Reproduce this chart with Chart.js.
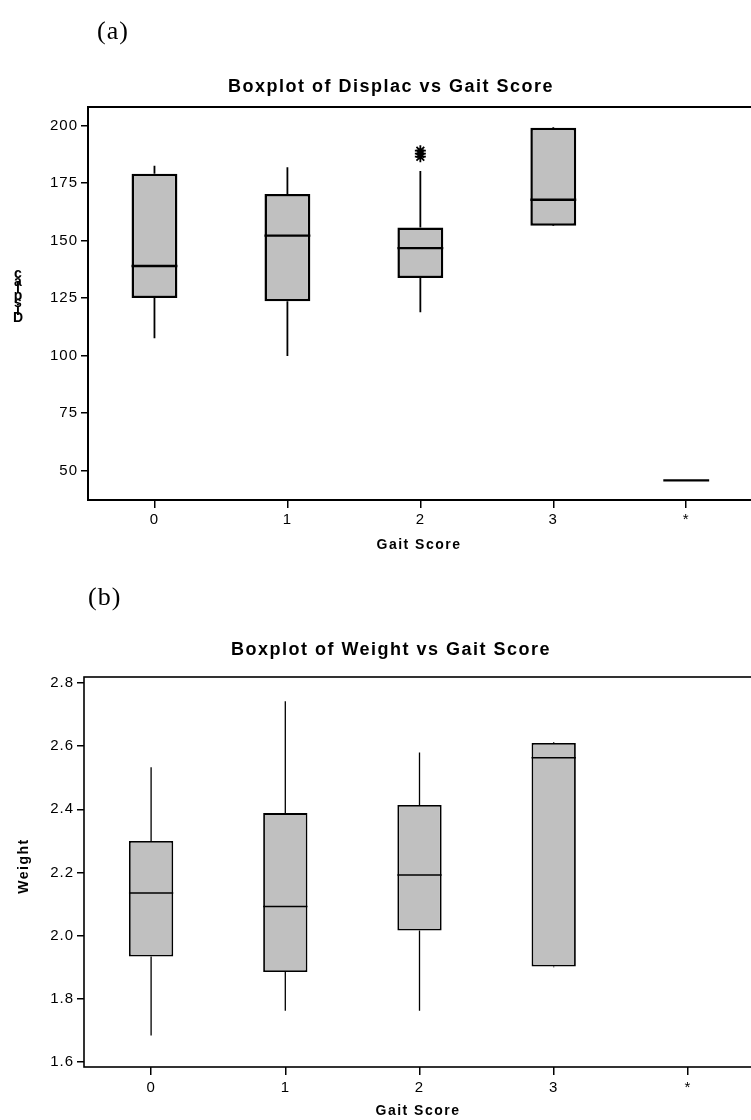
<!DOCTYPE html>
<html>
<head>
<meta charset="utf-8">
<title>Boxplots vs Gait Score</title>
<style>
  html, body { margin: 0; padding: 0; background: #fff; width: 751px; height: 1120px; overflow: hidden; }
  .panel { position: absolute; left: 0; width: 760px; height: 560px; }
  #panelA { top: 0; }
  #panelB { top: 560px; }
  canvas { display: block; }
</style>
<script src="https://cdn.jsdelivr.net/npm/chart.js"></script>
</head>
<body>
<div class="panel" id="panelA"><canvas id="displacChart" width="760" height="560"></canvas></div>
<div class="panel" id="panelB"><canvas id="weightChart" width="760" height="560"></canvas></div>
<script>
// Gait score groups (the last group holds records with a missing score)
const gaitScores = ['0', '1', '2', '3', '*'];

// Displacement summary per gait score
const displacMin    = [107.5,  99.8, 118.8, 157.0, 45.7];
const displacQ1     = [125.0, 123.6, 133.7, 156.4, 45.7];
const displacMedian = [138.9, 152.1, 146.7, 167.7, 45.7];
const displacQ3     = [179.0, 170.2, 155.6, 199.0, 45.7];
const displacMax    = [182.5, 181.8, 180.2, 199.3, 45.7];
const displacOutlierGroups = ['2', '2', '2'];
const displacOutlierValues = [186.4, 187.7, 189.0];
const displacTicks = [50, 75, 100, 125, 150, 175, 200];

// Weight summary per gait score
const weightMin    = [1.684, 1.762, 1.762, 1.900, null];
const weightQ1     = [1.934, 1.885, 2.016, 1.902, null];
const weightMedian = [2.135, 2.092, 2.192, 2.563, null];
const weightQ3     = [2.300, 2.388, 2.414, 2.610, null];
const weightMax    = [2.533, 2.742, 2.580, 2.612, null];
const weightTicks  = [1.6, 1.8, 2.0, 2.2, 2.4, 2.6, 2.8];

const SANS = '"Liberation Sans", Arial, sans-serif';
const SERIF = '"Liberation Serif", "Times New Roman", serif';

// Whiskers, median bars and the closed plot frame
function boxMarksPlugin(stats, style) {
  return {
    id: 'boxMarks',
    beforeDraw(chart) {
      chart.ctx.letterSpacing = '1px';
    },
    afterDatasetsDraw(chart) {
      const { ctx, chartArea, scales: { x, y } } = chart;
      const meta = chart.getDatasetMeta(0);
      ctx.save();
      ctx.strokeStyle = '#000';
      ctx.lineCap = 'butt';
      stats.q1.forEach((q1, i) => {
        if (q1 == null) return;
        const bar = meta.data[i];
        const cx = x.getPixelForValue(i);
        const half = bar.width / 2;
        ctx.lineWidth = style.whisker;
        ctx.beginPath();
        ctx.moveTo(cx, y.getPixelForValue(stats.q3[i]));
        ctx.lineTo(cx, y.getPixelForValue(stats.max[i]));
        ctx.moveTo(cx, y.getPixelForValue(q1));
        ctx.lineTo(cx, y.getPixelForValue(stats.min[i]));
        ctx.stroke();
        ctx.lineWidth = style.median;
        const my = y.getPixelForValue(stats.median[i]);
        ctx.beginPath();
        ctx.moveTo(cx - half, my);
        ctx.lineTo(cx + half, my);
        ctx.stroke();
      });
      ctx.lineWidth = style.frame;
      ctx.strokeRect(chartArea.left, chartArea.top, chartArea.width, chartArea.height);
      ctx.restore();
    }
  };
}

// Panel letter, chart title and axis titles
function captionPlugin(text) {
  return {
    id: 'captions',
    afterDraw(chart) {
      const ctx = chart.ctx;
      ctx.save();
      ctx.fillStyle = '#000';
      ctx.textBaseline = 'middle';

      ctx.font = '26px ' + SERIF;
      ctx.letterSpacing = '1px';
      ctx.textAlign = 'left';
      ctx.fillText(text.panel, text.panelX, text.panelY);

      ctx.font = 'bold 18px ' + SANS;
      ctx.letterSpacing = '1.5px';
      ctx.textAlign = 'center';
      ctx.fillText(text.title, text.titleX, text.titleY);

      ctx.font = 'bold 14px ' + SANS;
      ctx.fillText(text.xTitle, text.xTitleX, text.xTitleY);

      if (text.yStacked) {
        // y label drawn as upright letters packed bottom to top
        ctx.font = 'bold 14px ' + SANS;
        ctx.letterSpacing = '0px';
        ctx.textBaseline = 'alphabetic';
        const letters = Array.from(text.yTitle);
        letters.forEach((ch, k) => {
          ctx.fillText(ch, text.yTitleX, text.yTitleY - k * text.yStep);
        });
      } else {
        ctx.translate(text.yTitleX, text.yTitleY);
        ctx.rotate(-Math.PI / 2);
        ctx.fillText(text.yTitle, 0, 0);
      }
      ctx.restore();
    }
  };
}

function buildBoxplot(canvasId, cfg) {
  const boxes = cfg.stats.q1.map((q1, i) => (q1 == null ? null : [q1, cfg.stats.q3[i]]));
  const datasets = [{
    type: 'bar',
    data: boxes,
    backgroundColor: '#c0c0c0',
    borderColor: '#000',
    borderWidth: cfg.style.box,
    borderSkipped: false,
    barPercentage: cfg.style.boxFraction,
    categoryPercentage: 1
  }];
  if (cfg.outlierGroups.length) {
    datasets.push({
      type: 'scatter',
      data: cfg.outlierGroups.map((g, k) => ({ x: g, y: cfg.outlierValues[k] })),
      pointStyle: 'star',
      radius: 5.5,
      borderWidth: 1.8,
      borderColor: '#000',
      backgroundColor: '#000'
    });
  }
  return new Chart(document.getElementById(canvasId), {
    type: 'bar',
    data: { labels: gaitScores, datasets },
    options: {
      responsive: false,
      animation: false,
      devicePixelRatio: 1,
      layout: { padding: { top: cfg.area.top, right: cfg.area.right, bottom: 0, left: 0 } },
      plugins: { legend: { display: false }, tooltip: { enabled: false }, title: { display: false } },
      scales: {
        x: {
          type: 'category',
          offset: true,
          afterFit: s => { s.height = cfg.area.xAxisHeight; },
          grid: { offset: false, drawOnChartArea: false, drawTicks: true, tickLength: 8, color: '#000', lineWidth: 1.5 },
          border: { display: false },
          ticks: { color: '#000', font: { family: SANS, size: 15 }, padding: cfg.area.xPad, maxRotation: 0, autoSkip: false }
        },
        y: {
          type: 'linear',
          min: cfg.yMin,
          max: cfg.yMax,
          afterBuildTicks: s => { s.ticks = cfg.ticks.map(v => ({ value: v })); },
          afterFit: s => { s.width = cfg.area.left; },
          grid: { drawOnChartArea: false, drawTicks: true, tickLength: 7, color: '#000', lineWidth: 1.5 },
          border: { display: false },
          ticks: { color: '#000', font: { family: SANS, size: 15 }, padding: 3, callback: cfg.tickFormat }
        }
      }
    },
    plugins: [boxMarksPlugin(cfg.stats, cfg.style), captionPlugin(cfg.text)]
  });
}

buildBoxplot('displacChart', {
  stats: { min: displacMin, q1: displacQ1, median: displacMedian, q3: displacQ3, max: displacMax },
  outlierGroups: displacOutlierGroups,
  outlierValues: displacOutlierValues,
  ticks: displacTicks,
  yMin: 37.2,
  yMax: 208.0,
  tickFormat: v => String(v),
  area: { top: 107, right: 4.5, left: 88, xAxisHeight: 60, xPad: 3 },
  style: { box: 2.5, median: 2.3, whisker: 1.8, frame: 2, boxFraction: 0.345 },
  text: {
    panel: '(a)', panelX: 97, panelY: 32,
    title: 'Boxplot of Displac vs Gait Score', titleX: 391, titleY: 87,
    xTitle: 'Gait Score', xTitleX: 419, xTitleY: 545,
    yTitle: 'Displac', yStacked: true, yTitleX: 18, yTitleY: 322, yStep: 7.3
  }
});

buildBoxplot('weightChart', {
  stats: { min: weightMin, q1: weightQ1, median: weightMedian, q3: weightQ3, max: weightMax },
  outlierGroups: [],
  outlierValues: [],
  ticks: weightTicks,
  yMin: 1.584,
  yMax: 2.819,
  tickFormat: v => v.toFixed(1),
  area: { top: 117, right: 5, left: 84, xAxisHeight: 53, xPad: 4 },
  style: { box: 1.8, median: 1.5, whisker: 1.3, frame: 1.6, boxFraction: 0.33 },
  text: {
    panel: '(b)', panelX: 88, panelY: 38,
    title: 'Boxplot of Weight vs Gait Score', titleX: 391, titleY: 90,
    xTitle: 'Gait Score', xTitleX: 418, xTitleY: 551,
    yTitle: 'Weight', yStacked: false, yTitleX: 24, yTitleY: 306
  }
});
</script>
</body>
</html>
